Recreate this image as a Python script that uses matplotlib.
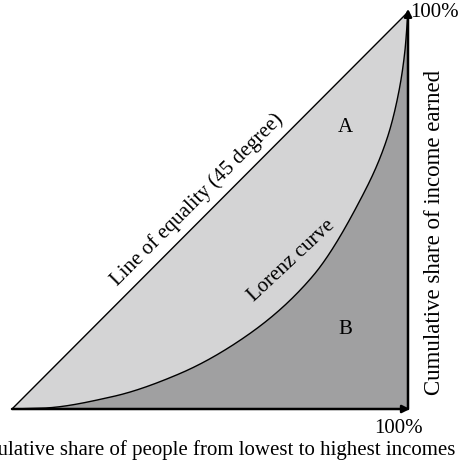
import matplotlib
matplotlib.use("Agg")
import matplotlib.pyplot as plt
import numpy as np

# cumulative share of people (x) and of income (y)
people = [0.0, 0.076, 0.253, 0.421, 0.589, 0.758, 0.879, 0.946, 0.975, 0.992, 1.0]
income = [0.0, 0.002, 0.031, 0.088, 0.182, 0.333, 0.526, 0.678, 0.790, 0.900, 1.0]
equality = [0.0, 1.0]

plt.rcParams['font.family'] = ['Liberation Serif', 'DejaVu Serif']


def pchip(x, y, xq):
    # monotone cubic (Fritsch-Carlson) so the curve stays smooth between read points
    x = np.asarray(x, float)
    y = np.asarray(y, float)
    h = np.diff(x)
    d = np.diff(y) / h
    m = np.zeros_like(y)
    for i in range(1, len(x) - 1):
        if d[i - 1] * d[i] > 0:
            w1 = 2 * h[i] + h[i - 1]
            w2 = h[i] + 2 * h[i - 1]
            m[i] = (w1 + w2) / (w1 / d[i - 1] + w2 / d[i])
    m[0] = d[0]
    m[-1] = d[-1]
    idx = np.clip(np.searchsorted(x, xq) - 1, 0, len(h) - 1)
    t = (xq - x[idx]) / h[idx]
    h00 = 2 * t**3 - 3 * t**2 + 1
    h10 = t**3 - 2 * t**2 + t
    h01 = -2 * t**3 + 3 * t**2
    h11 = t**3 - t**2
    return h00 * y[idx] + h10 * h[idx] * m[idx] + h01 * y[idx + 1] + h11 * h[idx] * m[idx + 1]


fig = plt.figure(figsize=(4.61, 4.62), dpi=100)
ax = fig.add_axes([12 / 461, 53 / 462, 396 / 461, 397 / 462])
ax.set_xlim(0, 1)
ax.set_ylim(0, 1)
ax.axis('off')

s = np.linspace(0, 1, 600)
cx = 1 - (1 - s) ** 2
cy = pchip(people, income, cx)

# area A between equality line and curve, area B under the curve
ax.fill(np.r_[cx, equality[::-1]], np.r_[cy, equality[::-1]], color='#d4d4d5', lw=0)
ax.fill(np.r_[cx, 1.0], np.r_[cy, 0.0], color='#a0a0a1', lw=0)
ax.plot(cx, cy, color='black', lw=1)
ax.plot(equality, equality, color='black', lw=1)

ax.annotate('', xy=(1.005, 0), xytext=(0, 0), annotation_clip=False,
            arrowprops=dict(arrowstyle='-|>', color='black', lw=1.8,
                            mutation_scale=11, shrinkA=0, shrinkB=0))
ax.annotate('', xy=(1.0, 1.008), xytext=(1.0, 0), annotation_clip=False,
            arrowprops=dict(arrowstyle='-|>', color='black', lw=1.8,
                            mutation_scale=11, shrinkA=0, shrinkB=0))

ax.text(0.976, -0.048, '100%', ha='center', va='center', fontsize=15)
ax.text(1.005, 0.998, '100%', ha='left', va='center', fontsize=15)
ax.text(1.119, -0.103, 'Cumulative share of people from lowest to highest incomes',
        ha='right', va='center', fontsize=15, clip_on=False)
ax.text(1.068, 0.445, 'Cumulative share of income earned', rotation=90,
        ha='center', va='center', fontsize=16.5)
ax.text(0.467, 0.526, 'Line of equality (45 degree)', rotation=45,
        ha='center', va='center', fontsize=15, rotation_mode='anchor')
ax.text(0.705, 0.373, 'Lorenz curve', rotation=43,
        ha='center', va='center', fontsize=15, rotation_mode='anchor')
ax.text(0.841, 0.708, 'A', ha='center', va='center', fontsize=15)
ax.text(0.841, 0.199, 'B', ha='center', va='center', fontsize=15)

fig.savefig('out.png', dpi=100)
